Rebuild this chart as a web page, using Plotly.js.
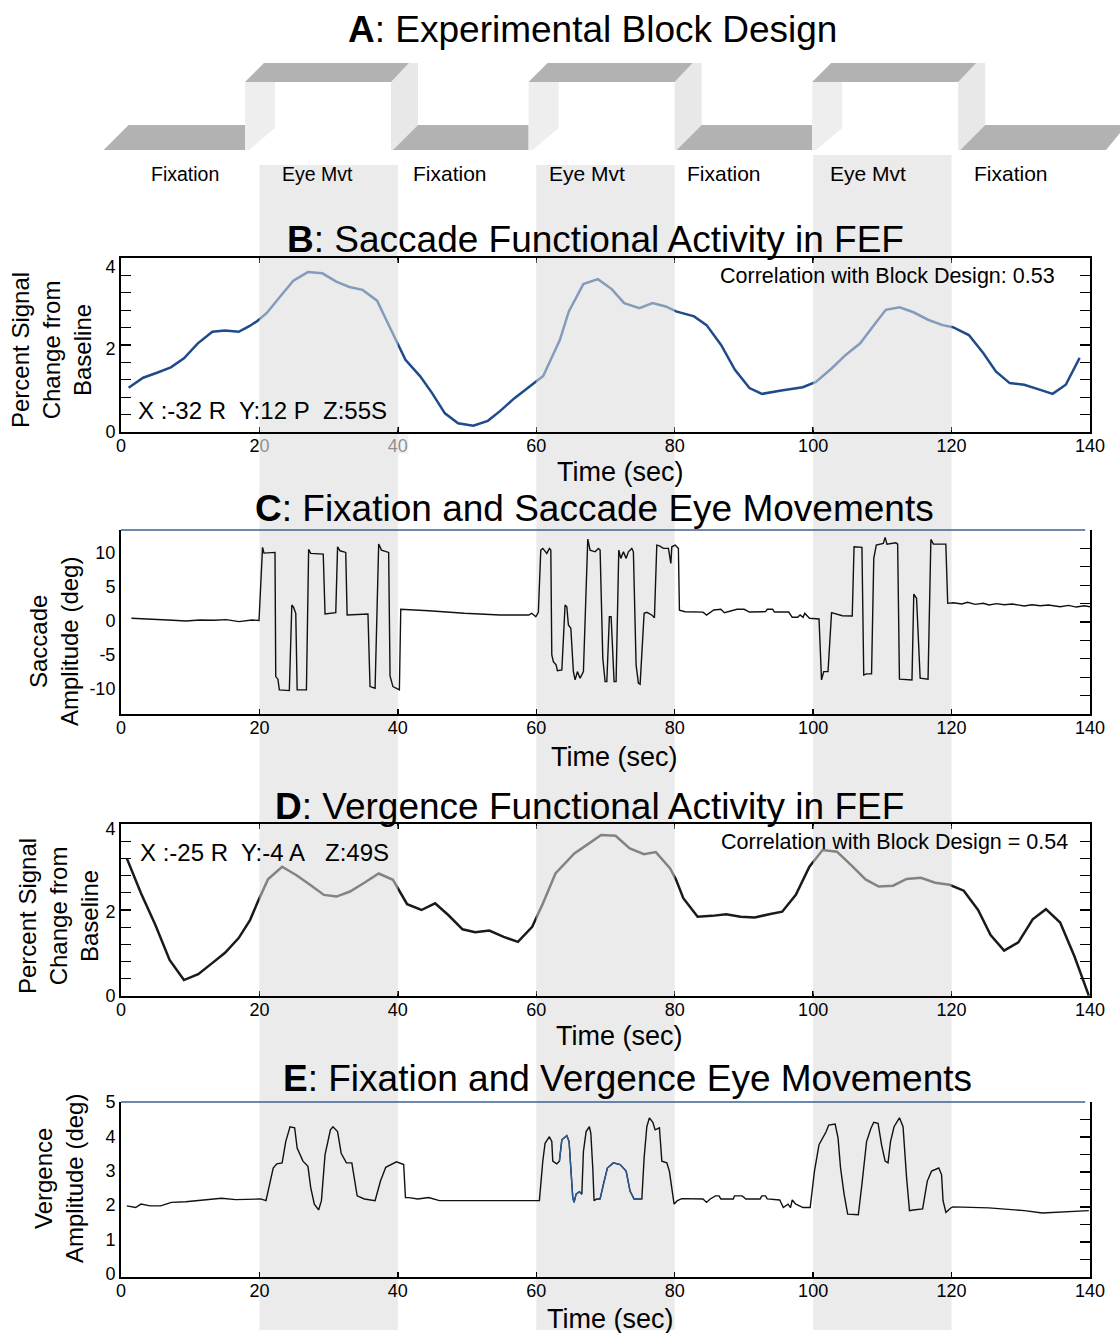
<!DOCTYPE html>
<html>
<head>
<meta charset="utf-8">
<script src="https://cdn.plot.ly/plotly-3.0.1.min.js"></script>
<style>
  html, body { margin: 0; padding: 0; background: #fff; }
  #chart { width: 1120px; height: 1333px; }
</style>
</head>
<body>
<div id="chart"></div>
<script>
// ---------- data ----------
// Block design: eye-movement blocks (s) alternating with fixation
const blockLabels = ['Fixation', 'Eye Mvt', 'Fixation', 'Eye Mvt', 'Fixation', 'Eye Mvt', 'Fixation'];
const eyeMvtOnsets = [20, 60, 100];
const eyeMvtLength = 20;
const timeTicks = [0, 20, 40, 60, 80, 100, 120, 140];

// B: saccade functional activity in FEF (% signal change)
const sacFefT = [1.1, 3.2, 5.2, 7.2, 9.1, 11.1, 13.2, 15.0, 17.0, 18.6,
  19.7, 21.1, 23.0, 24.9, 27.0, 29.1, 31.1, 33.0, 34.9, 37.0,
  38.8, 40.1, 41.1, 43.2, 44.9, 46.8, 48.7, 50.9, 53.0, 54.8,
  56.8, 58.9, 61.0, 63.4, 64.7, 66.8, 68.9, 70.9, 72.7, 74.9,
  76.8, 78.7, 80.2, 82.8, 84.6, 86.7, 88.7, 90.8, 92.6, 95.4,
  98.5, 100.4, 102.7, 104.7, 106.8, 108.8, 110.5, 112.5, 114.5, 116.6,
  118.7, 120.2, 122.5, 124.6, 126.4, 128.4, 130.5, 132.6, 134.6, 136.5,
  138.5];
const sacFefV = [1.07, 1.31, 1.43, 1.56, 1.78, 2.14, 2.42, 2.45, 2.42, 2.56,
  2.68, 2.88, 3.27, 3.65, 3.86, 3.83, 3.63, 3.50, 3.43, 3.17,
  2.54, 2.10, 1.74, 1.35, 0.95, 0.45, 0.21, 0.15, 0.27, 0.51,
  0.81, 1.08, 1.35, 2.22, 2.91, 3.57, 3.69, 3.45, 3.11, 2.99,
  3.11, 3.03, 2.91, 2.79, 2.58, 2.10, 1.50, 1.06, 0.92, 1.00,
  1.08, 1.21, 1.54, 1.86, 2.14, 2.58, 2.95, 3.01, 2.89, 2.71,
  2.58, 2.53, 2.34, 1.90, 1.46, 1.18, 1.14, 1.03, 0.92, 1.14,
  1.79];

// C: saccade amplitude (deg)
const sacEyeT = [1.5, 3.5, 5.6, 7.5, 9.35, 11.4, 13.5, 15.2, 17.05, 18.9,
  19.94, 20.45, 20.66, 22.25, 22.36, 22.67, 22.88, 24.32, 24.68, 24.94,
  25.25, 25.45, 26.79, 27.11, 27.41, 29.22, 29.48, 31.03, 31.29, 31.65,
  32.47, 32.67, 35.68, 35.98, 36.71, 37.23, 37.63, 38.67, 38.87, 39.29,
  40.22, 40.42, 44.45, 49.61, 54.77, 58.9, 59.35, 59.93, 60.3, 60.65,
  60.94, 61.52, 61.89, 62.1, 62.24, 62.47, 62.86, 63.05, 63.69, 64.16,
  64.41, 64.64, 64.99, 65.36, 65.61, 65.94, 66.33, 66.81, 67.44, 67.77,
  68.5, 68.97, 69.22, 69.61, 69.94, 70.19, 70.56, 70.81, 71.24, 71.53,
  71.92, 72.21, 72.59, 72.98, 73.31, 73.8, 74.03, 74.42, 74.75, 75.0,
  75.58, 75.97, 76.69, 77.07, 77.41, 77.79, 78.37, 79.09, 79.44, 79.58,
  80.06, 80.53, 80.68, 81.5, 84.09, 84.6, 85.64, 86.66, 87.18, 88.99,
  90.03, 90.79, 93.12, 93.37, 94.15, 94.41, 96.47, 96.98, 97.76, 98.12,
  98.54, 98.79, 99.47, 100.85, 101.21, 101.53, 102.15, 102.66, 104.21, 105.65,
  105.91, 107.05, 107.31, 107.72, 108.44, 108.76, 109.12, 110.14, 110.4, 110.66,
  111.95, 112.21, 112.47, 114.28, 114.54, 114.94, 115.46, 116.6, 117.01, 117.37,
  119.17, 119.44, 120.22, 121.5, 122.3, 123.4, 124.6, 125.4, 126.5, 127.6,
  128.8, 130.5, 131.6, 132.8, 134.0, 135.7, 136.9, 138.0, 139.2, 140];
const sacEyeV = [0.4, 0.3, 0.3, 0.1, 0.0, 0.15, 0.1, 0.2, -0.1, 0.15,
  0.07, 10.84, 10.0, 10.1, -8.19, -8.57, -10.15, -10.25, 2.35, 2.0,
  1.13, -10.15, -10.15, 10.54, 9.96, 9.85, 1.03, 1.22, 10.93, 10.34,
  10.1, 0.88, 1.03, -9.66, -9.9, 11.32, 10.44, 10.1, -8.09, -9.66,
  -10.15, 1.72, 1.51, 1.13, 0.88, 0.88, 1.13, 0.63, 1.28, 10.44,
  10.69, 9.96, 10.69, 10.44, -5.0, -5.99, -6.47, -7.31, -7.21, 2.35,
  2.1, -0.59, -1.07, -7.46, -8.68, -7.46, -8.43, -7.46, 12.06, 10.44,
  10.19, 10.69, 10.44, -5.49, -8.93, -8.93, 0.63, 0.63, -8.93, -8.93,
  10.44, 9.22, 10.19, 9.22, 10.19, 10.69, 10.19, -6.47, -9.16, -9.31,
  1.13, 1.28, 0.88, 0.49, 11.18, 11.07, 10.69, 10.69, 8.49, 10.93,
  11.18, 10.69, 1.6, 1.37, 1.3, 0.88, 1.62, 1.72, 1.22, 1.72,
  1.72, 1.32, 1.37, 1.72, 1.72, 1.32, 1.32, 0.54, 0.54, 0.88,
  0.54, 1.13, 0.4, 0.29, -8.68, -7.46, -7.46, 1.22, 0.78, 0.74,
  10.93, 10.84, -7.94, -7.79, -7.79, 9.22, 11.18, 11.43, 12.31, 11.32,
  11.51, 11.32, -8.57, -8.68, 3.97, 3.34, -8.43, -8.57, 12.01, 11.32,
  11.32, 2.6, 2.69, 2.5, 2.75, 2.45, 2.6, 2.35, 2.55, 2.4,
  2.5, 2.2, 2.4, 2.25, 2.35, 2.1, 2.3, 2.05, 2.25, 2.1];
const sacEyeTickVals = [-10, -5, 0, 5, 10];
const sacEyeTickText = ['-10', '-5', '0', '5', '10'];

// D: vergence functional activity in FEF (% signal change)
const vergFefT = [0.84, 2.89, 4.97, 7.02, 9.09, 11.16, 13.22, 15.03, 17.0, 18.64,
  19.78, 21.23, 23.28, 25.35, 27.31, 29.32, 31.13, 33.09, 35.16, 37.23,
  39.29, 41.34, 43.41, 45.38, 47.28, 49.35, 51.16, 53.22, 55.29, 57.35,
  59.41, 60.97, 62.77, 65.5, 67.47, 69.36, 71.45, 73.5, 75.56, 77.27,
  79.34, 80.2, 81.24, 83.31, 85.38, 87.43, 89.51, 91.56, 93.64, 95.53,
  97.5, 99.46, 101.37, 103.44, 105.49, 107.57, 109.48, 111.55, 113.5, 115.56,
  117.63, 119.7, 121.76, 123.83, 125.64, 127.59, 129.65, 131.72, 133.63, 135.69,
  137.76, 139.83];
const vergFefV = [3.28, 2.45, 1.69, 0.86, 0.38, 0.52, 0.79, 1.03, 1.38, 1.81,
  2.25, 2.78, 3.08, 2.88, 2.65, 2.41, 2.37, 2.49, 2.70, 2.92,
  2.77, 2.19, 2.05, 2.21, 1.93, 1.59, 1.52, 1.56, 1.41, 1.29,
  1.65, 2.21, 2.92, 3.40, 3.62, 3.84, 3.82, 3.52, 3.38, 3.43,
  3.04, 2.77, 2.33, 1.89, 1.91, 1.95, 1.89, 1.87, 1.95, 2.01,
  2.41, 3.08, 3.48, 3.44, 3.12, 2.78, 2.61, 2.63, 2.79, 2.82,
  2.70, 2.65, 2.51, 2.05, 1.45, 1.08, 1.28, 1.83, 2.07, 1.75,
  0.94, 0.01];

// E: vergence amplitude (deg)
const vergEyeT = [0.84, 2.12, 2.89, 4.19, 5.74, 7.28, 9.35, 12.2, 14.51, 16.58,
  20.19, 20.95, 21.99, 22.51, 23.28, 23.8, 24.42, 25.09, 25.45, 26.29,
  27.01, 27.41, 27.93, 28.55, 28.96, 29.48, 30.26, 30.62, 31.29, 31.81,
  32.57, 33.35, 34.12, 35.16, 36.71, 37.49, 38.25, 39.8, 40.84, 41.1,
  41.6, 42.9, 44.45, 46.0, 49.61, 54.77, 60.45, 60.94, 61.27, 61.89,
  62.24, 62.38, 62.96, 63.34, 63.69, 64.41, 64.74, 64.99, 65.27, 65.46,
  65.75, 66.23, 66.58, 66.81, 67.2, 67.67, 67.88, 68.16, 68.35, 68.74,
  69.22, 69.7, 70.27, 71.14, 72.11, 72.98, 73.55, 74.13, 75.25, 75.58,
  75.97, 76.34, 76.84, 77.17, 77.79, 78.14, 78.86, 79.23, 79.58, 79.91,
  80.39, 81.03, 84.09, 84.6, 85.12, 85.9, 86.4, 86.66, 88.47, 88.63,
  89.75, 90.27, 92.34, 92.6, 93.12, 93.37, 95.17, 95.69, 96.37, 96.73,
  96.98, 97.5, 98.54, 99.57, 100.19, 100.85, 101.89, 102.25, 103.18, 103.6,
  103.96, 104.47, 104.99, 106.53, 107.05, 107.72, 108.34, 108.76, 109.38, 109.88,
  110.4, 110.82, 111.18, 111.69, 112.47, 112.99, 113.5, 113.92, 114.44, 115.82,
  116.49, 117.11, 118.15, 118.55, 118.77, 119.18, 119.96, 120.22, 125.38, 130.53,
  133.11, 135.69, 139.83];
const vergEyeV = [1.98, 1.93, 2.03, 1.98, 1.98, 2.08, 2.10, 2.16, 2.20, 2.16,
  2.18, 2.13, 3.08, 3.20, 3.23, 3.85, 4.28, 4.25, 3.66, 3.28,
  3.13, 2.51, 2.03, 1.86, 2.13, 3.47, 4.19, 4.28, 4.14, 3.51,
  3.23, 3.23, 2.27, 2.18, 2.13, 2.70, 3.10, 3.26, 3.18, 2.22,
  2.22, 2.18, 2.22, 2.13, 2.13, 2.13, 2.13, 3.28, 3.80, 3.99,
  3.85, 3.28, 3.20, 3.28, 3.90, 4.02, 3.85, 3.08, 2.22, 2.08,
  2.32, 2.39, 2.32, 3.56, 4.14, 4.28, 4.09, 3.08, 2.13, 2.18,
  2.18, 2.61, 3.08, 3.23, 3.18, 2.99, 2.41, 2.18, 2.18, 3.37,
  4.28, 4.54, 4.41, 4.19, 4.25, 3.28, 3.23, 2.99, 2.41, 2.03,
  2.13, 2.19, 2.18, 2.08, 2.18, 2.27, 2.27, 2.18, 2.18, 2.27,
  2.27, 2.18, 2.18, 2.27, 2.27, 2.18, 2.15, 1.93, 2.03, 1.93,
  2.15, 2.03, 1.93, 1.93, 2.99, 3.76, 4.14, 4.33, 4.36, 3.95,
  3.08, 2.32, 1.74, 1.72, 2.61, 3.85, 4.23, 4.41, 4.38, 3.76,
  3.28, 3.23, 3.85, 4.28, 4.54, 4.28, 2.80, 1.84, 1.86, 1.89,
  2.70, 2.99, 3.08, 2.89, 2.13, 1.79, 1.93, 1.95, 1.92, 1.84,
  1.77, 1.79, 1.84];
// stretches of the vergence trace shown in blue
const vergBlueWindows = [[63.34, 66.58], [69.22, 75.25]];

// ---------- layout helpers ----------
const W = 1120, H = 1333;
const FONT = 'Liberation Sans, Arial, sans-serif';
const fx = v => v / W;
const fy = v => 1 - v / H;
const xDom = [fx(121), fx(1090)];
const domB = [fy(432), fy(258)];
const domC = [fy(714), fy(530)];
const domD = [fy(996), fy(824)];
const domE = [fy(1277), fy(1102)];

const tickFont = { family: FONT, size: 18, color: '#000' };
const tenths = [1, 2, 3, 4, 5, 6, 7, 8, 9];

function xAxis(anchor, mirror) {
  return {
    domain: xDom, range: [0, 140], anchor: anchor,
    tickmode: 'array', tickvals: timeTicks,
    ticks: 'inside', ticklen: 5, tickwidth: 1.5, tickcolor: '#000',
    ticklabelstandoff: -4,
    showline: true, linecolor: '#000', linewidth: 2, mirror: mirror,
    showgrid: false, zeroline: false, tickfont: tickFont
  };
}
function yLabelAxis(domain, range, vals, anchor, text) {
  const ax = {
    domain: domain, range: range, anchor: anchor,
    tickmode: 'array', tickvals: vals, ticks: '',
    showline: true, linecolor: '#000', linewidth: 2,
    showgrid: false, zeroline: false, tickfont: tickFont
  };
  if (text) ax.ticktext = text;
  return ax;
}
function yTickAxis(over, anchor, mirror) {
  return {
    overlaying: over, side: 'right', anchor: anchor, range: [0, 10],
    tickmode: 'array', tickvals: tenths,
    ticks: 'inside', ticklen: 10, tickwidth: 1.2, tickcolor: '#000',
    showticklabels: false, showline: true, linecolor: '#000', linewidth: 1.5,
    mirror: mirror ? 'ticks' : false, showgrid: false, zeroline: false
  };
}

// ---------- traces ----------
const inWindows = t => vergBlueWindows.some(w => t >= w[0] && t <= w[1]);
const blueT = [], blueV = [];
vergEyeT.forEach((t, i) => {
  if (inWindows(t)) { blueT.push(t); blueV.push(vergEyeV[i]); }
  else if (blueT.length && blueT[blueT.length - 1] !== null) { blueT.push(null); blueV.push(null); }
});

const base = { type: 'scatter', mode: 'lines', hoverinfo: 'skip', showlegend: false };
const traces = [
  Object.assign({}, base, { x: sacFefT, y: sacFefV, xaxis: 'x', yaxis: 'y', line: { color: '#1f4b8a', width: 2.5 } }),
  Object.assign({}, base, { x: sacEyeT, y: sacEyeV, xaxis: 'x2', yaxis: 'y3', line: { color: '#111', width: 1.4 } }),
  Object.assign({}, base, { x: vergFefT, y: vergFefV, xaxis: 'x3', yaxis: 'y5', line: { color: '#1a1a1a', width: 2.5 } }),
  Object.assign({}, base, { x: vergEyeT, y: vergEyeV, xaxis: 'x4', yaxis: 'y7', line: { color: '#111', width: 1.4 } }),
  Object.assign({}, base, { x: blueT, y: blueV, xaxis: 'x4', yaxis: 'y7', connectgaps: false, line: { color: '#2b5a99', width: 1.4 } }),
  // carriers for the tick-only frame axes
  Object.assign({}, base, { x: [], y: [], xaxis: 'x', yaxis: 'y2' }),
  Object.assign({}, base, { x: [], y: [], xaxis: 'x2', yaxis: 'y4' }),
  Object.assign({}, base, { x: [], y: [], xaxis: 'x3', yaxis: 'y6' }),
  Object.assign({}, base, { x: [], y: [], xaxis: 'x4', yaxis: 'y8' })
];

// ---------- shapes ----------
const shapes = [];
// shaded eye-movement blocks running through all panels
eyeMvtOnsets.forEach((t0, i) => {
  shapes.push({ type: 'rect', xref: 'x', yref: 'paper', x0: t0, x1: t0 + eyeMvtLength,
    y0: fy(1330), y1: fy(i === 2 ? 155 : 165), fillcolor: '#ebebeb', line: { width: 0 }, layer: 'below' });
});
// translucent veil over the fMRI traces inside the blocks
const veil = 'rgba(235,235,235,0.5)';
eyeMvtOnsets.forEach(t0 => {
  shapes.push({ type: 'rect', xref: 'x', yref: 'y domain', x0: t0, x1: t0 + eyeMvtLength, y0: 0.01, y1: 0.99,
    fillcolor: veil, line: { width: 0 }, layer: 'above' });
  shapes.push({ type: 'rect', xref: 'x3', yref: 'y5 domain', x0: t0, x1: t0 + eyeMvtLength, y0: 0.01, y1: 0.99,
    fillcolor: veil, line: { width: 0 }, layer: 'above' });
});
shapes.push({ type: 'rect', xref: 'x', yref: 'paper', x0: eyeMvtOnsets[0], x1: eyeMvtOnsets[0] + eyeMvtLength + 1.5,
  y0: fy(454), y1: fy(434), fillcolor: 'rgba(235,235,235,0.6)', line: { width: 0 }, layer: 'above' });
// blue top rules of the eye-movement panels
shapes.push({ type: 'line', xref: 'x2', yref: 'y3 domain', x0: 0, x1: 139.3, y0: 1, y1: 1, line: { color: '#3d5f92', width: 1.5 } });
shapes.push({ type: 'line', xref: 'x4', yref: 'y7 domain', x0: 0, x1: 139.3, y0: 1, y1: 1, line: { color: '#3d5f92', width: 1.5 } });

// block-design step drawing
function polyPath(pts) { return 'M' + pts.map(p => fx(p[0]).toFixed(5) + ',' + fy(p[1]).toFixed(5)).join('L') + 'Z'; }
function addPoly(pts, color) {
  shapes.push({ type: 'path', xref: 'paper', yref: 'paper', path: polyPath(pts), fillcolor: color, line: { width: 0 }, layer: 'above' });
}
const stepPeriod = 283.6, firstRiser = 245, plateSpan = 146;
const plateColor = '#b2b2b2', wallLeft = '#eeeeee', wallRight = '#e8e8e8';
const risers = [0, 1, 2].map(k => firstRiser + k * stepPeriod);
addPoly([[103.6, 150], [128.6, 125], [risers[0], 125], [risers[0], 150]], plateColor);
risers.forEach((xL, k) => {
  const xR = xL + plateSpan;
  addPoly([[xL, 82], [xL + 30, 82], [xL + 30, 128], [xL + 4, 150], [xL, 150]], wallLeft);
  addPoly([[xR, 82], [xR + 18, 63], [xR + 27, 63], [xR + 27, 125], [xR + 2, 150], [xR, 150]], wallRight);
  addPoly([[xL, 82], [xL + 19, 63], [xR + 18, 63], [xR, 82]], plateColor);
  if (k < 2) {
    addPoly([[xR + 2, 150], [xR + 27, 125], [risers[k + 1], 125], [risers[k + 1], 150]], plateColor);
  } else {
    addPoly([[xR + 2, 150], [xR + 27, 125], [1120, 125], [1120, 133], [1106, 150]], plateColor);
  }
});

// ---------- annotations ----------
function ann(text, x, y, size, extra) {
  return Object.assign({ text: text, x: fx(x), y: fy(y), xref: 'paper', yref: 'paper', showarrow: false,
    xanchor: 'center', yanchor: 'middle', font: { family: FONT, size: size, color: '#000' } }, extra || {});
}
const blockLabelX = [185, 317, 450, 587, 724, 868, 1011];
const annotations = [
  ann('<b>A</b>: Experimental Block Design', 592, 29, 37),
  ann('<b>B</b>: Saccade Functional Activity in FEF', 595, 240, 37),
  ann('<b>C</b>: Fixation and Saccade Eye Movements', 594, 509, 37),
  ann('<b>D</b>: Vergence Functional Activity in FEF', 589, 806, 37),
  ann('<b>E</b>: Fixation and Vergence Eye Movements', 627, 1078, 37),
  ann('Time (sec)', 620, 472, 27),
  ann('Time (sec)', 614, 757, 27),
  ann('Time (sec)', 619, 1036, 27),
  ann('Time (sec)', 610, 1319, 27),
  ann('Percent Signal<br>Change from<br>Baseline', 52, 350, 24, { textangle: -90 }),
  ann('Saccade<br>Amplitude (deg)', 54, 642, 24, { textangle: -90 }),
  ann('Percent Signal<br>Change from<br>Baseline', 58, 916, 24, { textangle: -90 }),
  ann('Vergence<br>Amplitude (deg)', 59, 1179, 24, { textangle: -90 }),
  ann('X :-32 R\u00a0 Y:12 P\u00a0 Z:55S', 136, 410, 24, { xanchor: 'left' }),
  ann('X :-25 R\u00a0 Y:-4 A\u00a0\u00a0 Z:49S', 138, 852, 24, { xanchor: 'left' }),
  ann('Correlation with Block Design: 0.53', 1057, 276, 21.5, { xanchor: 'right' }),
  ann('Correlation with Block Design = 0.54', 1070, 842, 21.5, { xanchor: 'right' })
];
blockLabels.forEach((s, i) => annotations.push(ann(s, blockLabelX[i], 174, i < 2 ? 19.5 : 21)));

// ---------- layout ----------
const layout = {
  width: W, height: H, autosize: false,
  margin: { l: 0, r: 0, t: 0, b: 0 },
  paper_bgcolor: '#ffffff', plot_bgcolor: 'rgba(0,0,0,0)',
  font: { family: FONT, color: '#000' },
  showlegend: false,
  xaxis: xAxis('y', 'ticks'),
  yaxis: yLabelAxis(domB, [0, 4.2], [0, 2, 4], 'x'),
  yaxis2: yTickAxis('y', 'x', true),
  xaxis2: xAxis('y3', false),
  yaxis3: yLabelAxis(domC, [-13.7, 13.4], sacEyeTickVals, 'x2', sacEyeTickText),
  yaxis4: yTickAxis('y3', 'x2', false),
  xaxis3: xAxis('y5', 'ticks'),
  yaxis5: yLabelAxis(domD, [0, 4.1], [0, 2, 4], 'x3'),
  yaxis6: yTickAxis('y5', 'x3', true),
  xaxis4: xAxis('y7', false),
  yaxis7: yLabelAxis(domE, [-0.09, 5.0], [0, 1, 2, 3, 4, 5], 'x4'),
  yaxis8: yTickAxis('y7', 'x4', false),
  shapes: shapes,
  annotations: annotations
};

Plotly.newPlot('chart', traces, layout, { staticPlot: true, displayModeBar: false });
</script>
</body>
</html>
